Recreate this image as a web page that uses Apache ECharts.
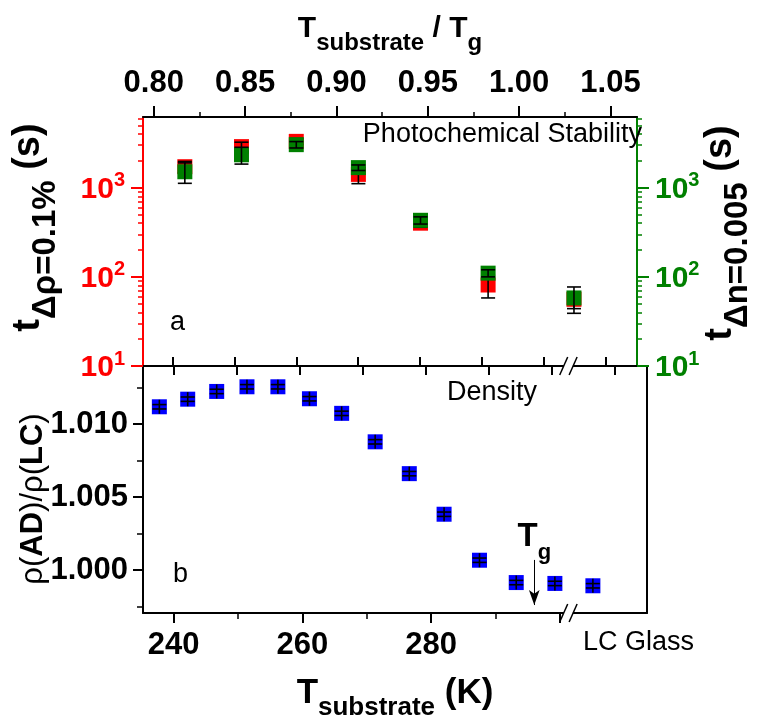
<!DOCTYPE html>
<html>
<head>
<meta charset="utf-8">
<script src="https://cdn.jsdelivr.net/npm/echarts@6.0.0/dist/echarts.min.js"></script>
<style>
html, body { margin: 0; padding: 0; background: #fff; }
#chart { width: 762px; height: 723px; }
</style>
</head>
<body>
<div id="chart"></div>
<script>
// panel a : photochemical stability against T_substrate / T_g
var ratioA = [0.817, 0.848, 0.878, 0.912, 0.946, 0.983, 1.030];
var tRho = [1720, 2890, 3310, 1410, 400, 81, 56];
var tRhoErr = [250, 350, 250, 300, 40, 23, 12];
var tN = [1510, 2340, 3040, 1680, 431, 110, 58];
var tNErr = [390, 500, 250, 120, 40, 10, 19];

// panel b : density against T_substrate (last point = LC glass)
var tempB = [237.8, 242.2, 246.7, 251.4, 256.2, 261.1, 266.1, 271.3, 276.6, 282.0, 287.5, 293.2, 299.2, 305.1];
var densB = [1.01118, 1.01170, 1.01223, 1.01255, 1.01255, 1.01173, 1.01073, 1.00878, 1.00660, 1.00382, 1.00067, 0.99914, 0.99908, 0.99892];
var densErr = [0.00015, 0.00015, 0.00015, 0.00015, 0.00015, 0.00015, 0.00015, 0.00015, 0.00015, 0.00015, 0.00015, 0.00015, 0.00015, 0.00015];

// ticks
var ratioTicks = [0.80, 0.85, 0.90, 0.95, 1.00, 1.05];
var ratioMinor = [0.825, 0.875, 0.925, 0.975, 1.025];
var logTicks = [10, 100, 1000];
var logMinor = [20, 30, 40, 50, 60, 70, 80, 90, 200, 300, 400, 500, 600, 700, 800, 900, 2000, 3000, 4000, 5000, 6000];
var tempLabels = [240, 260, 280];
var tempMajor = [240, 260, 280, 300];
var tempMinor = [250, 270, 290];
var tempMid = [240, 250, 260, 270, 280, 290, 300, 310];
var densLabels = [1.000, 1.005, 1.010];
var densTicks = [1.000, 1.005, 1.010];
var densMinor = [0.9975, 1.0025, 1.0075, 1.0125];

// T_g arrow
var tg = 296;
var tgArrowTop = 1.00069;
var tgArrowBottom = 0.99760;
var breakT = 301.3;

var FONT = 'Liberation Sans, Arial, Helvetica, sans-serif';
var RED = '#ff0000', GREEN = '#008000', BLUE = '#0000ff';

var myChart = echarts.init(document.getElementById('chart'));

function zip(a, b, c) {
	var out = [];
	for (var i = 0; i < a.length; i++) {
		out.push(c ? [a[i], b[i], c[i]] : [a[i], b[i]]);
	}
	return out;
}

// black error bars, stem at least as long as the square
function errorBars(minStem) {
	return function (params, api) {
		var x = api.value(0), y = api.value(1), e = api.value(2);
		var c = api.coord([x, y]);
		var hi = api.coord([x, y + e])[1];
		var lo = api.coord([x, y - e])[1];
		var top = Math.min(hi, c[1] - minStem), bot = Math.max(lo, c[1] + minStem);
		var st = { stroke: '#000', lineWidth: 1.6 };
		return {
			type: 'group',
			children: [
				{ type: 'line', shape: { x1: c[0], y1: top, x2: c[0], y2: bot }, style: st },
				{ type: 'line', shape: { x1: c[0] - 7, y1: hi, x2: c[0] + 7, y2: hi }, style: st },
				{ type: 'line', shape: { x1: c[0] - 7, y1: lo, x2: c[0] + 7, y2: lo }, style: st }
			]
		};
	};
}

// plain axis that only draws extra ticks
function tickOnly(o, values, len, color, inside) {
	return Object.assign({
		type: 'value',
		splitLine: { show: false },
		axisLine: { show: false, onZero: false },
		axisLabel: { show: false },
		axisTick: { show: true, customValues: values, length: len, inside: !!inside, lineStyle: { color: color, width: 1.5 } }
	}, o);
}

function logLabel(color) {
	return {
		show: true,
		margin: 18,
		customValues: logTicks,
		formatter: function (v) {
			return '{b|10}{s|' + Math.round(Math.log10(v)) + '}';
		},
		rich: {
			b: { fontSize: 30, fontWeight: 'bold', fontFamily: FONT, color: color, lineHeight: 30, verticalAlign: 'bottom' },
			s: { fontSize: 20, fontWeight: 'bold', fontFamily: FONT, color: color, padding: [0, 0, 14, 0], verticalAlign: 'bottom' }
		}
	};
}

function titleRich(big, small, pad) {
	return {
		T: { fontSize: big, fontWeight: 'bold', fontFamily: FONT, color: '#000', lineHeight: big, verticalAlign: 'top' },
		s: { fontSize: small, fontWeight: 'bold', fontFamily: FONT, color: '#000', padding: [pad, 0, 0, 0], verticalAlign: 'top' }
	};
}

var grids = [
	{ left: 143, top: 117, width: 504, height: 249 },
	{ left: 143, top: 366, width: 504, height: 247 }
];

var xAxes = [
	// 0: T_substrate / T_g on top
	{
		type: 'value', gridIndex: 0, position: 'top', min: 0.7941, max: 1.0645,
		splitLine: { show: false },
		axisLine: { show: true, onZero: false, lineStyle: { color: '#000', width: 2 } },
		axisTick: { show: true, customValues: ratioTicks, length: 11, lineStyle: { color: '#000', width: 2 } },
		axisLabel: {
			show: true, customValues: ratioTicks, margin: 18, color: '#000',
			fontSize: 31, fontWeight: 'bold', fontFamily: FONT,
			formatter: function (v) { return v.toFixed(2); }
		},
		name: '{T|T}{s|substrate}{T| / T}{s|g}',
		nameLocation: 'middle', nameGap: 62, nameMoveOverlap: false,
		nameTextStyle: { rich: titleRich(30, 24, 17) }
	},
	// 1: minor ticks of 0
	tickOnly({ gridIndex: 0, position: 'top', min: 0.7941, max: 1.0645 }, ratioMinor, 5, '#000'),
	// 2: bottom edge of panel a, ticks pointing up
	{
		type: 'value', gridIndex: 0, position: 'bottom', min: 235.2, max: 315.07,
		splitLine: { show: false },
		axisLine: { show: true, onZero: false, lineStyle: { color: '#000', width: 2 } },
		axisTick: { show: true, inside: true, customValues: tempMid, length: 9, lineStyle: { color: '#000', width: 2 } },
		axisLabel: { show: false }
	},
	// 3: T_substrate (K)
	{
		type: 'value', gridIndex: 1, position: 'bottom', min: 235.26, max: 313.5,
		splitLine: { show: false },
		axisLine: { show: true, onZero: false, lineStyle: { color: '#000', width: 2 } },
		axisTick: { show: true, customValues: tempMajor, length: 10, lineStyle: { color: '#000', width: 2 } },
		axisLabel: {
			show: true, customValues: tempLabels, margin: 17, color: '#000',
			fontSize: 31, fontWeight: 'bold', fontFamily: FONT
		},
		name: '{T|T}{s|substrate}{T| (K)}',
		nameLocation: 'middle', nameGap: 63, nameMoveOverlap: false,
		nameTextStyle: { rich: titleRich(35, 26, 19) }
	},
	// 4: minor ticks of 3
	tickOnly({ gridIndex: 1, position: 'bottom', min: 235.26, max: 313.5 }, tempMinor, 6, '#000'),
	// 5: top edge of panel b, ticks pointing down
	{
		type: 'value', gridIndex: 1, position: 'top', min: 235.2, max: 315.07,
		splitLine: { show: false },
		axisLine: { show: true, onZero: false, lineStyle: { color: '#000', width: 2 } },
		axisTick: { show: true, inside: true, customValues: tempMid, length: 9, lineStyle: { color: '#000', width: 2 } },
		axisLabel: { show: false }
	}
];

var yAxes = [
	// 0: red log axis
	{
		type: 'log', logBase: 10, gridIndex: 0, position: 'left', min: 10, max: 6210,
		splitLine: { show: false },
		axisLine: { show: true, onZero: false, lineStyle: { color: RED, width: 2 } },
		axisTick: { show: true, customValues: logTicks, length: 12, lineStyle: { color: RED, width: 2 } },
		axisLabel: logLabel(RED),
		name: '{T|t}{s|Δρ=0.1%}{T| (s)}',
		nameLocation: 'middle', nameGap: 81, nameMoveOverlap: false,
		nameTextStyle: { padding: [0, 0, 0, 28], rich: titleRich(38, 33, 19) }
	},
	// 1: green log axis
	{
		type: 'log', logBase: 10, gridIndex: 0, position: 'right', min: 10, max: 6210,
		splitLine: { show: false },
		axisLine: { show: true, onZero: false, lineStyle: { color: GREEN, width: 2 } },
		axisTick: { show: true, customValues: logTicks, length: 12, lineStyle: { color: GREEN, width: 2 } },
		axisLabel: logLabel(GREEN),
		name: '{T|t}{s|Δn=0.005}{T| (s)}',
		nameLocation: 'middle', nameGap: 65, nameMoveOverlap: false,
		nameTextStyle: { padding: [0, 0, 0, 17], rich: titleRich(38, 33, 19) }
	},
	// 2, 3: log minor ticks
	tickOnly({ type: 'log', logBase: 10, gridIndex: 0, position: 'left', min: 10, max: 6210 }, logMinor, 5, RED),
	tickOnly({ type: 'log', logBase: 10, gridIndex: 0, position: 'right', min: 10, max: 6210 }, logMinor, 5, GREEN),
	// 4: density ratio
	{
		type: 'value', gridIndex: 1, position: 'left', min: 0.997055, max: 1.013973,
		splitLine: { show: false },
		axisLine: { show: true, onZero: false, lineStyle: { color: '#000', width: 2 } },
		axisTick: { show: true, customValues: densTicks, length: 10, lineStyle: { color: '#000', width: 2 } },
		axisLabel: {
			show: true, customValues: densLabels, margin: 15, color: '#000',
			fontSize: 31, fontWeight: 'bold', fontFamily: FONT,
			formatter: function (v) { return v.toFixed(3); }
		},
		name: '{r|ρ(}{b|AD}{r|)/ρ(}{b|LC}{r|)}',
		nameLocation: 'middle', nameGap: 94, nameMoveOverlap: false,
		nameTextStyle: {
			padding: [0, 19, 0, 0],
			rich: {
				r: { fontSize: 31, fontFamily: FONT, color: '#000', lineHeight: 31 },
				b: { fontSize: 31, fontWeight: 'bold', fontFamily: FONT, color: '#000', lineHeight: 31 }
			}
		}
	},
	// 5: right edge of panel b
	{
		type: 'value', gridIndex: 1, position: 'right', min: 0.997055, max: 1.013973,
		splitLine: { show: false },
		axisLine: { show: true, onZero: false, lineStyle: { color: '#000', width: 2 } },
		axisTick: { show: false },
		axisLabel: { show: false }
	},
	// 6: density minor ticks
	tickOnly({ gridIndex: 1, position: 'left', min: 0.997055, max: 1.013973 }, densMinor, 6, '#000')
];

var series = [
	{
		name: 't rho', type: 'scatter', xAxisIndex: 0, yAxisIndex: 0, z: 2,
		symbol: 'rect', symbolSize: 15, itemStyle: { color: RED, opacity: 1 },
		data: zip(ratioA, tRho)
	},
	{
		type: 'custom', xAxisIndex: 0, yAxisIndex: 0, z: 3,
		renderItem: errorBars(0), data: zip(ratioA, tRho, tRhoErr)
	},
	{
		name: 't n', type: 'scatter', xAxisIndex: 0, yAxisIndex: 1, z: 4,
		symbol: 'rect', symbolSize: 15, itemStyle: { color: GREEN, opacity: 1 },
		data: zip(ratioA, tN)
	},
	{
		type: 'custom', xAxisIndex: 0, yAxisIndex: 1, z: 5,
		renderItem: errorBars(0), data: zip(ratioA, tN, tNErr)
	},
	{
		name: 'density', type: 'scatter', xAxisIndex: 3, yAxisIndex: 4, z: 2,
		symbol: 'rect', symbolSize: 15, itemStyle: { color: BLUE, opacity: 1 },
		data: zip(tempB, densB),
		markLine: {
			silent: true, animation: false,
			symbol: ['none', 'arrow'], symbolSize: [8, 15],
			lineStyle: { color: '#000', width: 1, type: 'solid' },
			label: {
				show: true, position: 'start', distance: -4,
				formatter: '{T|T}{s|g}',
				rich: titleRich(33, 22, 22)
			},
			data: [[{ coord: [tg, tgArrowTop] }, { coord: [tg, tgArrowBottom] }]]
		}
	},
	{
		type: 'custom', xAxisIndex: 3, yAxisIndex: 4, z: 3,
		renderItem: errorBars(7), data: zip(tempB, densB, densErr)
	}
];

function note(text, x, y, align) {
	return {
		type: 'text', x: x, y: y, z: 100,
		style: { text: text, fontSize: 27, fontFamily: FONT, fill: '#000', align: align || 'left', verticalAlign: 'middle' }
	};
}

var notes = [
	note('Photochemical Stability', 642, 135, 'right'),
	note('a', 170, 323),
	note('Density', 447, 393),
	note('b', 173, 575),
	note('LC Glass', 583, 643)
];

var option = {
	animation: false,
	backgroundColor: '#fff',
	grid: grids,
	xAxis: xAxes,
	yAxis: yAxes,
	series: series,
	graphic: notes
};
myChart.setOption(option);

// axis break marks "//" on the middle and bottom edges
var xb = myChart.convertToPixel({ xAxisIndex: 3 }, breakT);
var edges = [
	myChart.convertToPixel({ yAxisIndex: 4 }, 1.013973),
	myChart.convertToPixel({ yAxisIndex: 4 }, 0.997055)
];
var marks = [];
for (var i = 0; i < edges.length; i++) {
	var y = edges[i];
	marks.push({ type: 'rect', z: 100, shape: { x: xb - 4.5, y: y - 3, width: 9, height: 6 }, style: { fill: '#fff' } });
	[-4.7, 4.7].forEach(function (d) {
		marks.push({
			type: 'line', z: 101,
			shape: { x1: xb + d - 4, y1: y + 9, x2: xb + d + 4, y2: y - 9 },
			style: { stroke: '#000', lineWidth: 1.5 }
		});
	});
}
myChart.setOption({ graphic: notes.concat(marks) });
</script>
</body>
</html>
